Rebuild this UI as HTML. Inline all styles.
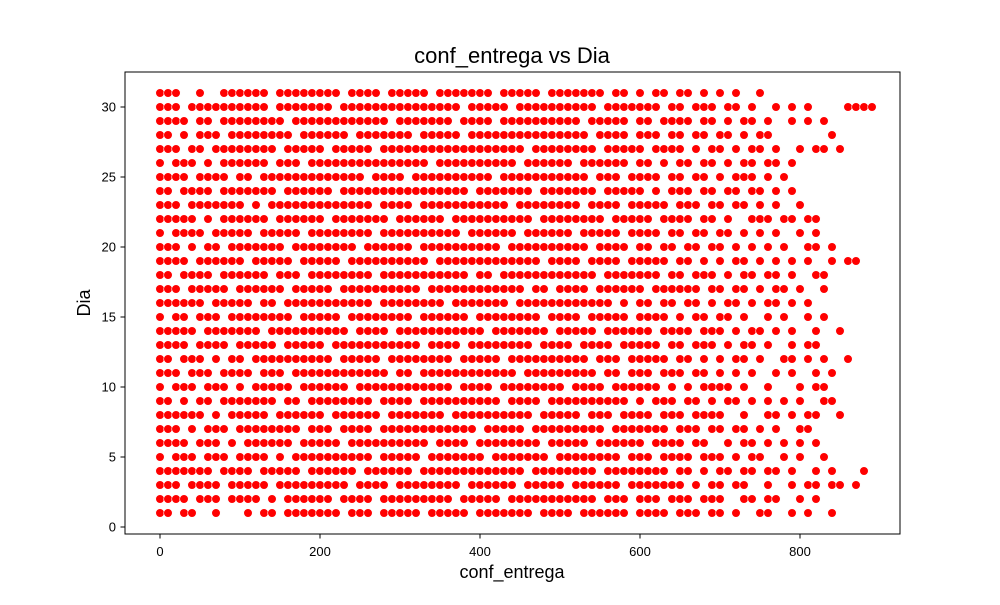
<!DOCTYPE html>
<html><head><meta charset="utf-8"><style>
body{margin:0;background:#fff;}
svg text{font-family:"Liberation Sans","DejaVu Sans",sans-serif;fill:#000;}
</style></head><body>
<svg id="chart" width="1000" height="600" xmlns="http://www.w3.org/2000/svg">
<rect width="1000" height="600" fill="#fff"/>
<text x="512" y="63" font-size="22" text-anchor="middle">conf_entrega vs Dia</text>
<g id="points"></g>
<rect x="125" y="72" width="775" height="462" fill="none" stroke="#000" stroke-width="1"/>
<g id="xticks"></g>
<g id="yticks"></g>
<text x="512" y="578" font-size="18" text-anchor="middle">conf_entrega</text>
<text transform="translate(90,303) rotate(-90)" font-size="18" text-anchor="middle">Dia</text>
</svg>
<script>
// Per-day occupancy of conf_entrega in 10-unit bins (1 = a point present)
const days = [1,2,3,4,5,6,7,8,9,10,11,12,13,14,15,16,17,18,19,20,21,22,23,24,25,26,27,28,29,30,31];
const binWidth = 10;
const rows = [
"1101100100 0101101111 1110111011 1110111110 1111111011 1101111110 1111011101 1010011001 0100100000",
"1111011101 1110101111 1101111011 1111111011 1110111111 1111101110 1110111011 1001101100 1010000000",
"1110111101 1111011111 1111011110 1111111101 1111101111 1011111101 1111110101 1011001001 0110110100",
"1111111011 1101111101 1111101111 1101111111 1111110111 1111101111 1111011010 1101101101 0010100010",
"1011101110 1111010111 1111111011 1110111111 1011111110 1111111101 1101111011 1010110010 1001000000",
"1111011101 0111111011 1110111111 1111011110 1111111101 1111011111 1011110110 0101101010 1010000000",
"1110101110 1111111101 1101111011 1111111111 0111110111 1111110111 1111011101 1011010100 1100000000",
"1111110101 1111011111 1011111101 1111110111 1111111011 1110111011 1101110111 1001001101 0110010000",
"1101011011 1111101101 1111111011 1101111111 1110111101 1111111110 1011101101 0110101010 1001100000",
"1011101110 1011111011 1111011111 1111111011 1101111111 1011110111 1110101011 1101001000 1011000000",
"1110111011 1101110111 1111111110 1101111111 1111101111 1111101101 1101110110 1010100101 0010100000",
"1101110101 1011111111 1101111101 1111111011 1110111111 1111011101 1111011010 1011010011 0101001000",
"1111011110 1111101111 1011111111 1110111101 1111111011 1101111011 1110110111 0101101001 0110000000",
"1111101111 1110111111 1111011110 1111111111 1011111110 1111101111 1101111011 1010110101 0010010000",
"1011011101 1111111011 1110111111 1101111110 1111111101 1110111110 1111010110 1101001010 0101000000",
"1111110111 1101101111 1111111011 1111110111 1111011111 1111111010 1101101101 0110101101 0100000000",
"1110111110 1111110111 1101111111 1110111111 1111110110 1111011111 1011111101 1011010110 1001000000",
"1101111011 1111011101 1111111011 1111111110 1101111111 1111101111 1110110111 0101101101 0011000000",
"1111011111 1011111011 1110111111 1111011111 1111111101 1110111101 1111011010 1011010101 0100101100",
"1110101101 1111110111 1111101111 1101111111 1110111111 1111011110 1101101101 1010101010 0110100000",
"1011110111 1101111101 1111111011 1111111101 1111101111 1101111101 1110110110 1101010100 1010000000",
"1111101011 1111011111 1011111110 1111110111 1111111011 1111110111 1101111011 0100111011 0110000000",
"1110111111 1010111111 1111111011 1101111111 1111011111 1110111101 1111011101 1011010100 1000000000",
"1101111011 1111101111 1101111111 1111111110 1111111011 1111101111 1010111011 0110110101 0000000000",
"1111011110 1101111111 1111110111 1011111111 1101111111 1111011101 1110110110 1011101010 0000000000",
"1011101011 1111011101 1111111111 1111011111 1111101111 1101111110 1101011011 0101101101 0000000000",
"1110110111 1111101111 1011111011 1111111111 1111110111 1111101111 1011110101 1010110100 1011010000",
"1101011101 1111111011 1111011111 1101111101 1111111111 1111011110 1110110110 1101011000 0000100000",
"1111011011 1111110111 1111111110 1111111011 1101111111 1110111110 1101111011 0101101001 0101000000",
"1110111111 1111011111 1101111111 1111111101 1111011111 1111101111 1110110111 0110100101 0100001111",
"1110010011 1111011111 1110111101 1111011111 1101111101 1111110110 1011011010 1010010000 0000000000"
];
const xTicks = [0,200,400,600,800];
const yTicks = [0,5,10,15,20,25,30];

const NS = "http://www.w3.org/2000/svg";
const X = v => 160 + v * 0.8;
const Y = v => 527 - v * 14;
const gp = document.getElementById('points');
rows.forEach((r, i) => {
  const s = r.replace(/ /g, '');
  for (let b = 0; b < s.length; b++) {
    if (s[b] !== '1') continue;
    const c = document.createElementNS(NS, 'circle');
    
    
    c.setAttribute('cx', X(b * binWidth));
    c.setAttribute('cy', Y(days[i]));
    c.setAttribute('r', 4.3);
    c.setAttribute('fill', '#ff0000');
    c.setAttribute('stroke', '#fff');
    c.setAttribute('stroke-width', 0.6);
    gp.appendChild(c);
  }
});
const gx = document.getElementById('xticks');
xTicks.forEach(t => {
  const l = document.createElementNS(NS, 'line');
  
  
  l.setAttribute('x1', X(t)); l.setAttribute('x2', X(t));
  l.setAttribute('y1', 534); l.setAttribute('y2', 538.5);
  l.setAttribute('stroke', '#000');
  gx.appendChild(l);
  const tx = document.createElementNS(NS, 'text');
  
  
  tx.setAttribute('x', X(t)); tx.setAttribute('y', 556);
  tx.setAttribute('font-size', '13'); tx.setAttribute('text-anchor', 'middle');
  tx.textContent = t;
  gx.appendChild(tx);
});
const gy = document.getElementById('yticks');
yTicks.forEach(t => {
  const l = document.createElementNS(NS, 'line');
  
  
  l.setAttribute('x1', 120.5); l.setAttribute('x2', 125);
  l.setAttribute('y1', Y(t)); l.setAttribute('y2', Y(t));
  l.setAttribute('stroke', '#000');
  gy.appendChild(l);
  const tx = document.createElementNS(NS, 'text');
  
  
  tx.setAttribute('x', 116); tx.setAttribute('y', Y(t) + 4.5);
  tx.setAttribute('font-size', '13'); tx.setAttribute('text-anchor', 'end');
  tx.textContent = t;
  gy.appendChild(tx);
});
</script>
</body></html>
